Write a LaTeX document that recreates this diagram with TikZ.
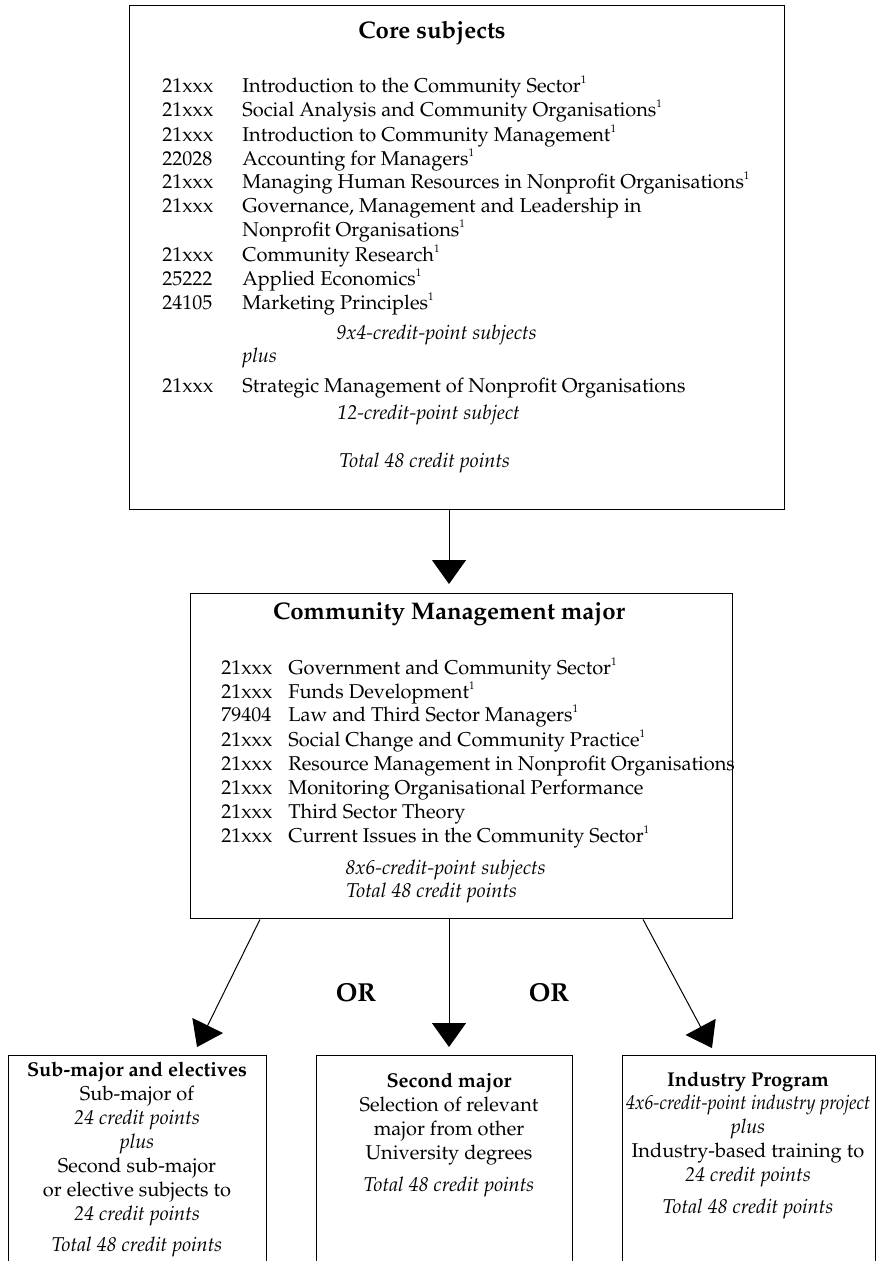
\documentclass[tikz,border=0pt]{standalone}
\usepackage[T1]{fontenc}
\usepackage{mathpazo}
\usetikzlibrary{arrows.meta}
\newcommand{\supone}{\raisebox{0.95ex}{\fontsize{5.5}{6}\selectfont 1}}
\begin{document}
\begin{tikzpicture}[x=0.5pt,y=-0.5pt,
  box/.style={draw, line width=0.7pt, inner sep=0pt, anchor=north west},
  txt/.style={inner sep=0pt, anchor=mid west, font=\fontsize{10}{12}\selectfont},
  itx/.style={txt, font=\fontsize{10}{12}\selectfont\itshape},
  ctr/.style={inner sep=0pt, anchor=mid, font=\fontsize{10}{12}\selectfont},
  ctri/.style={ctr, font=\fontsize{10}{12}\selectfont\itshape},
  ctrb/.style={ctr, font=\fontsize{10}{12}\selectfont\bfseries},
  ttl/.style={inner sep=0pt, anchor=mid, font=\fontsize{12}{14}\selectfont\bfseries},
  orl/.style={inner sep=0pt, anchor=mid, font=\fontsize{13}{15}\selectfont\bfseries},
  arr/.style={-{Triangle[length=12pt,width=17pt]}, line width=0.5pt}]
\path[use as bounding box] (0,0) rectangle (877,1261);
\clip (0,0) rectangle (877,1261);
\fill[white] (0,0) rectangle (877,1261);

% boxes
\node[box, minimum width=327.5pt, minimum height=252pt] (core) at (129,5) {};
\node[box, minimum width=271pt, minimum height=162.5pt] (mgmt) at (190,593) {};
\node[box, minimum width=129pt, minimum height=122.5pt] (sub) at (8,1055) {};
\node[box, minimum width=128pt, minimum height=122.5pt] (sec) at (316,1055) {};
\node[box, minimum width=126.5pt, minimum height=122.5pt] (ind) at (622,1055) {};

% core subjects
\node[ttl] (coreT) at (432,34) {Core subjects};
\node[txt] (k1) at (162,88) {21xxx};  \node[txt] (s1) at (242,88) {Introduction to the Community Sector\supone};
\node[txt] (k2) at (162,112) {21xxx}; \node[txt] (s2) at (242,112) {Social Analysis and Community Organisations\supone};
\node[txt] (k3) at (162,137) {21xxx}; \node[txt] (s3) at (242,137) {Introduction to Community Management\supone};
\node[txt] (k4) at (162,161) {22028}; \node[txt] (s4) at (242,161) {Accounting for Managers\supone};
\node[txt] (k5) at (162,184) {21xxx}; \node[txt] (s5) at (242,184) {Managing Human Resources in Nonprofit Organisations\supone};
\node[txt] (k6) at (162,208) {21xxx}; \node[txt] (s6) at (242,208) {Governance, Management and Leadership in};
\node[txt] (s6b) at (242,232) {Nonprofit Organisations\supone};
\node[txt] (k7) at (162,257) {21xxx}; \node[txt] (s7) at (242,257) {Community Research\supone};
\node[txt] (k8) at (162,281) {25222}; \node[txt] (s8) at (242,281) {Applied Economics\supone};
\node[txt] (k9) at (162,305) {24105}; \node[txt] (s9) at (242,305) {Marketing Principles\supone};
\node[itx] (cA) at (336,335) {9x4-credit-point subjects};
\node[itx] (cB) at (242,358) {plus};
\node[txt] (k10) at (162,388) {21xxx}; \node[txt] (s10) at (242,388) {Strategic Management of Nonprofit Organisations};
\node[itx] (cC) at (337,415) {12-credit-point subject};
\node[itx] (cD) at (339,463) {Total 48 credit points};

% community management major
\node[ttl] (mgmtT) at (449,615) {Community Management major};
\node[txt] (m1k) at (221,670) {21xxx}; \node[txt] (m1) at (288,670) {Government and Community Sector\supone};
\node[txt] (m2k) at (221,694) {21xxx}; \node[txt] (m2) at (288,694) {Funds Development\supone};
\node[txt] (m3k) at (221,717) {79404}; \node[txt] (m3) at (288,717) {Law and Third Sector Managers\supone};
\node[txt] (m4k) at (221,742) {21xxx}; \node[txt] (m4) at (288,742) {Social Change and Community Practice\supone};
\node[txt] (m5k) at (221,766) {21xxx}; \node[txt] (m5) at (288,766) {Resource Management in Nonprofit Organisations};
\node[txt] (m6k) at (221,790) {21xxx}; \node[txt] (m6) at (288,790) {Monitoring Organisational Performance};
\node[txt] (m7k) at (221,814) {21xxx}; \node[txt] (m7) at (288,814) {Third Sector Theory};
\node[txt] (m8k) at (221,838) {21xxx}; \node[txt] (m8) at (288,838) {Current Issues in the Community Sector\supone};
\node[itx] (mA) at (345,870) {8x6-credit-point subjects};
\node[itx] (mB) at (346,893) {Total 48 credit points};

% OR labels
\node[orl] (or1) at (356,997) {OR};
\node[orl] (or2) at (549,997) {OR};

% sub-major and electives
\node[ctrb] (b1a) at (137,1072) {Sub-major and electives};
\node[ctr]  (b1b) at (137,1096) {Sub-major of};
\node[ctri] (b1c) at (137,1120) {24 credit points};
\node[ctri] (b1d) at (137,1144) {plus};
\node[ctr]  (b1e) at (137,1168) {Second sub-major};
\node[ctr]  (b1f) at (137,1192) {or elective subjects to};
\node[ctri] (b1g) at (137,1216) {24 credit points};
\node[ctri] (b1h) at (137,1247) {Total 48 credit points};

% second major
\node[ctrb] (b2a) at (449,1083) {Second major};
\node[ctr]  (b2b) at (449,1107) {Selection of relevant};
\node[ctr]  (b2c) at (449,1131) {major from other};
\node[ctr]  (b2d) at (449,1155) {University degrees};
\node[ctri] (b2e) at (449,1187) {Total 48 credit points};

% industry program
\node[ctrb] (b3a) at (748,1082) {Industry Program};
\node[ctri] (b3b) at (748,1105) {\scalebox{0.92}[1]{4x6-credit-point industry project}};
\node[ctri] (b3c) at (748,1129) {plus};
\node[ctr]  (b3d) at (748,1153) {Industry-based training to};
\node[ctri] (b3e) at (748,1177) {24 credit points};
\node[ctri] (b3f) at (748,1209) {Total 48 credit points};

% connectors
\coordinate (xa) at (449,0);
\coordinate (xl0) at (260,0);
\coordinate (xl1) at (193.1,0);
\coordinate (xr0) at (643,0);
\coordinate (xr1) at (715.7,0);
\draw[arr, shorten >=4.5pt] (core.south -| xa) -- (mgmt.north -| xa);
\draw[arr, shorten >=4.45pt] (mgmt.south -| xl0) -- (sub.north -| xl1);
\draw[arr, shorten >=4pt] (mgmt.south -| xa) -- (sec.north -| xa);
\draw[arr, shorten >=3.95pt] (mgmt.south -| xr0) -- (ind.north -| xr1);
\end{tikzpicture}
\end{document}
